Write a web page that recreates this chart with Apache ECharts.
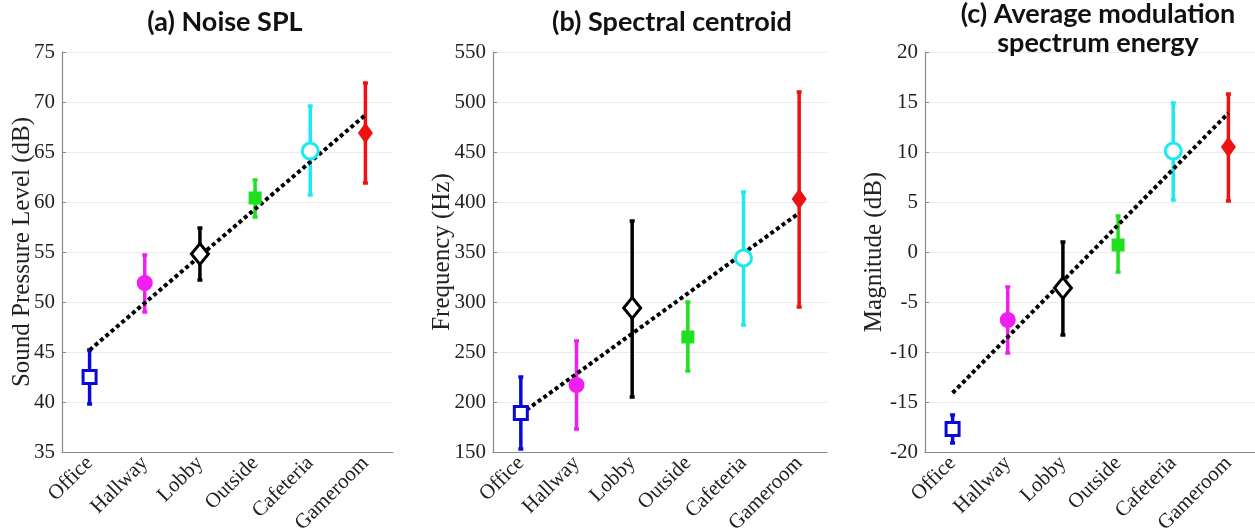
<!DOCTYPE html>
<html>
<head>
<meta charset="utf-8">
<script src="https://cdn.jsdelivr.net/npm/echarts@6/dist/echarts.min.js"></script>
<style>
  html, body { margin: 0; padding: 0; background: #fff; }
  #chart { width: 1255px; height: 528px; }
</style>
</head>
<body>
<div id="chart"></div>
<script>
// categories (rooms)
const categories = ["Office", "Hallway", "Lobby", "Outside", "Cafeteria", "Gameroom"];

// (a) noise SPL, dB
const splMean = [42.5, 51.9, 54.8, 60.4, 65.1, 66.9];
const splLow = [39.8, 49.0, 52.2, 58.5, 60.7, 61.9];
const splHigh = [45.2, 54.7, 57.4, 62.2, 69.6, 71.9];
const splTrend = [45.2, 68.7]; // fit at Office, Gameroom

// (b) spectral centroid, Hz
const centroidMean = [189, 217, 294, 265, 344, 403];
const centroidLow = [153, 173, 205, 231, 277, 295];
const centroidHigh = [225, 261, 381, 300, 410, 510];
const centroidTrend = [188, 389];

// (c) average modulation spectrum energy, dB
const modMean = [-17.7, -6.8, -3.6, 0.7, 10.1, 10.5];
const modLow = [-19.1, -10.1, -8.3, -2.0, 5.2, 5.1];
const modHigh = [-16.3, -3.5, 1.0, 3.6, 14.9, 15.8];
const modTrend = [-14.1, 13.9];

// y axis ticks
const splTicks = { min: 35, max: 75, interval: 5 };
const centroidTicks = { min: 150, max: 550, interval: 50 };
const modTicks = { min: -20, max: 20, interval: 5 };

// marker look per room
const colors = ["#0a0ad8", "#f01ef0", "#000000", "#1ee01e", "#1ee8f0", "#ee1111"];
const symbols = ["rect", "circle", "diamond", "rect", "circle", "diamond"];
const sizes = [[13, 13], [16, 16], [17, 21], [13, 13], [16, 16], [15, 21]];
const hollow = [true, false, true, false, true, false];

const serif = "Liberation Serif";
const chart = echarts.init(document.getElementById("chart"));

const panels = [
  { mean: splMean, low: splLow, high: splHigh, trend: splTrend, ticks: splTicks,
    name: "Sound Pressure Level (dB)", left: 62, width: 331, nameGap: 27 },
  { mean: centroidMean, low: centroidLow, high: centroidHigh, trend: centroidTrend, ticks: centroidTicks,
    name: "Frequency (Hz)", left: 493, width: 334, nameGap: 38 },
  { mean: modMean, low: modLow, high: modHigh, trend: modTrend, ticks: modTicks,
    name: "Magnitude (dB)", left: 925, width: 331, nameGap: 38 },
];

const grid = [], xAxis = [], yAxis = [], series = [];

panels.forEach((p, k) => {
  grid.push({ left: p.left, top: 52, width: p.width, height: 400, outerBoundsMode: "none" });
  xAxis.push({
    type: "category",
    gridIndex: k,
    data: categories,
    axisLine: { onZero: false, lineStyle: { color: "#8a8a8a", width: 1.2 } },
    axisTick: { inside: true, length: 12, alignWithLabel: true, lineStyle: { color: "#8a8a8a", width: 1.2 } },
    axisLabel: { rotate: 45, margin: 8, fontFamily: serif, fontSize: 21, color: "#222", interval: 0 },
    splitLine: { show: false },
  });
  yAxis.push({
    type: "value",
    gridIndex: k,
    min: p.ticks.min,
    max: p.ticks.max,
    interval: p.ticks.interval,
    name: p.name,
    nameLocation: "middle",
    nameGap: p.nameGap,
    nameMoveOverlap: false,
    nameTextStyle: { fontFamily: serif, fontSize: 25, color: "#222" },
    axisLine: { show: true, lineStyle: { color: "#8a8a8a", width: 1.2 } },
    axisTick: { show: true, inside: true, length: 4, lineStyle: { color: "#8a8a8a" } },
    axisLabel: { margin: 7, fontFamily: serif, fontSize: 21, color: "#222" },
    splitLine: { lineStyle: { color: "#ebebeb", width: 1 } },
  });

  // error bars
  series.push({
    type: "custom",
    xAxisIndex: k,
    yAxisIndex: k,
    z: 2,
    data: categories.map((c, i) => [i, p.low[i], p.high[i]]),
    encode: { x: 0, y: [1, 2] },
    renderItem: (params, api) => {
      const x = api.value(0);
      const lo = api.coord([x, api.value(1)]);
      const hi = api.coord([x, api.value(2)]);
      const style = { stroke: colors[params.dataIndex], lineWidth: 3.5 };
      const cap = 2.5;
      return {
        type: "group",
        children: [
          { type: "line", shape: { x1: lo[0], y1: lo[1], x2: hi[0], y2: hi[1] }, style },
          { type: "line", shape: { x1: hi[0] - cap, y1: hi[1], x2: hi[0] + cap, y2: hi[1] }, style },
          { type: "line", shape: { x1: lo[0] - cap, y1: lo[1], x2: lo[0] + cap, y2: lo[1] }, style },
        ],
      };
    },
  });

  // linear fit
  series.push({
    type: "line",
    xAxisIndex: k,
    yAxisIndex: k,
    z: 3,
    symbol: "none",
    silent: true,
    data: [[0, p.trend[0]], [categories.length - 1, p.trend[1]]],
    lineStyle: { color: "#000", width: 4, type: [4, 3] },
  });

  // means
  series.push({
    type: "scatter",
    xAxisIndex: k,
    yAxisIndex: k,
    z: 4,
    data: categories.map((c, i) => ({
      value: [i, p.mean[i]],
      symbol: symbols[i],
      symbolSize: sizes[i],
      itemStyle: hollow[i]
        ? { color: "#fff", borderColor: colors[i], borderWidth: 3, opacity: 1 }
        : { color: colors[i], opacity: 1 },
    })),
  });
});

const titleStyle = { fontFamily: "Lato", fontWeight: "bold", fontSize: 27, color: "#111", lineHeight: 29 };

chart.setOption({
  animation: false,
  backgroundColor: "#fff",
  title: [
    { text: "(a) Noise SPL", left: 220, top: 3, textAlign: "center", textStyle: titleStyle },
    { text: "(b) Spectral centroid", left: 667, top: 3, textAlign: "center", textStyle: titleStyle },
    { text: "(c) Average modulation\nspectrum energy", left: 1093, top: -5, textAlign: "center", textStyle: titleStyle },
  ],
  grid,
  xAxis,
  yAxis,
  series,
});
</script>
</body>
</html>
